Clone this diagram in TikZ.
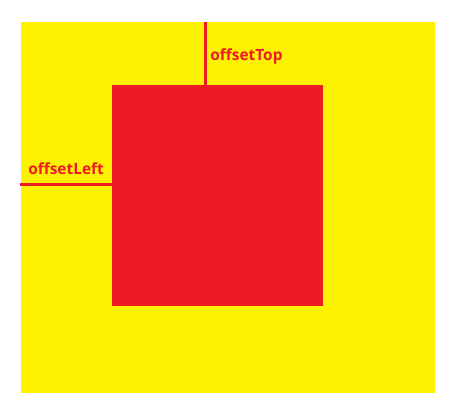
\documentclass[tikz,border=0pt]{standalone}
\usepackage{fontspec}
\setmainfont{Open Sans}
\usepackage{xcolor}
\usetikzlibrary{positioning,calc}
\definecolor{boxyellow}{RGB}{255,242,0}
\definecolor{boxred}{RGB}{237,28,36}

\begin{document}
\begin{tikzpicture}[x=0.75pt,y=-0.75pt,
  every node/.style={font=\bfseries\fontsize{11.6}{14}\selectfont},
  offsetlabel/.style={text=boxred, anchor=base west, inner sep=0pt},
  offsetline/.style={draw=boxred, line width=2.25pt}]
\useasboundingbox (0,0) rectangle (461,416);
% parent and child boxes
\fill[boxyellow] (21,22) rectangle (435,393);
\fill[boxred] (112,85) rectangle (323,306);
\coordinate (topstart) at (205.5,22);
\coordinate (topend) at (205.5,85);
\coordinate (leftstart) at (20,184.5);
\coordinate (leftend) at (112,184.5);
% offsets
\draw[offsetline] (topstart) -- (topend);
\draw[offsetline] (leftstart) -- (leftend);
\node[offsetlabel] (toplabel) at (210,61) {offsetTop};
\node[offsetlabel] (leftlabel) at (28,175) {offsetLeft};
\end{tikzpicture}
\end{document}
